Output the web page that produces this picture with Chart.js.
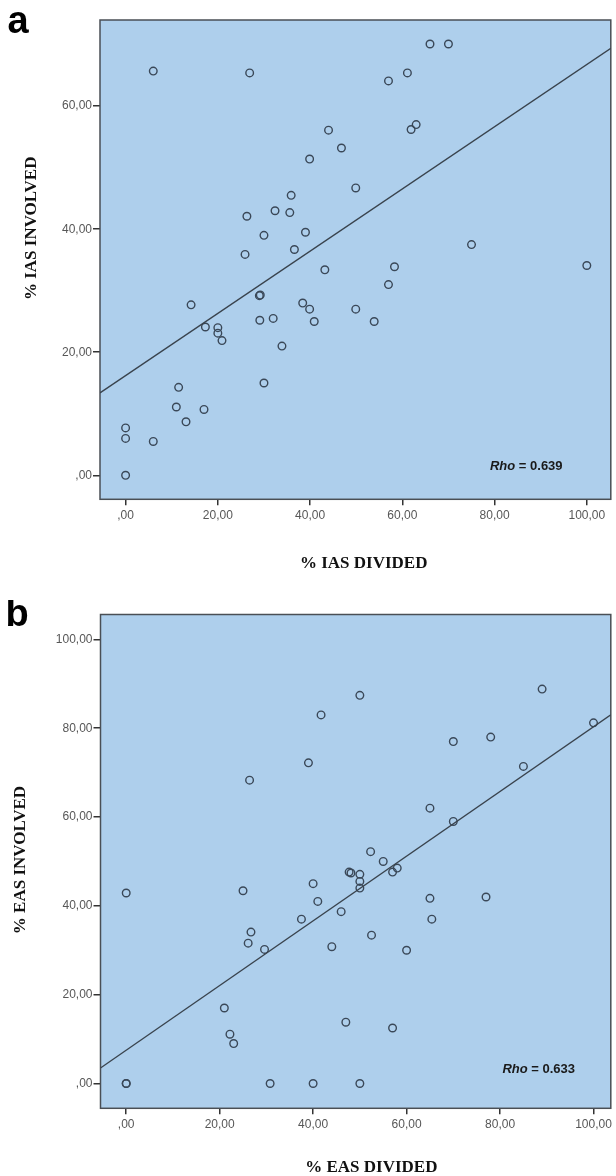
<!DOCTYPE html>
<html lang="en">
<head>
  <meta charset="UTF-8" />
  <title>IAS / EAS scatter</title>
  <style>
    body {
      margin: 0;
      background-color: #fff;
    }
    canvas {
      display: block;
    }
  </style>
  <script src="https://cdn.jsdelivr.net/npm/chart.js"></script>
</head>
<body>
  <canvas id="chartA" width="616" height="600"></canvas>
  <canvas id="chartB" width="616" height="576"></canvas>

  <script>
    // panel a: % IAS divided (x) vs % IAS involved (y)
    const iasDivided = [6, 26.9, 66, 70, 57, 61.1, 63, 61.9, 44, 46.8, 39.9, 49.9, 35.9, 32.4, 35.6, 26.3, 30, 39,
      36.6, 25.9, 75, 43.2, 58.3, 100, 57, 29, 29.2, 14.2, 38.4, 39.9, 49.9, 17.3, 20, 20, 20.9, 29.1, 32, 40.9,
      53.9, 33.9, 30, 11.5, 11, 17, 13.1, 0, 0, 6, 0];
    const iasInvolved = [65.7, 65.4, 70.1, 70.1, 64.1, 65.4, 57, 56.2, 56.1, 53.2, 51.4, 46.7, 45.5, 43, 42.7, 42.1, 39, 39.5,
      36.7, 35.9, 37.5, 33.4, 33.9, 34.1, 31, 29.2, 29.3, 27.7, 28, 27, 27, 24.1, 24, 23.1, 21.9, 25.2, 25.5, 25,
      25, 21, 15, 14.3, 11.1, 10.7, 8.7, 7.7, 6, 5.5, 0];
    const iasFitX = [-5.55, 105.2];
    const iasFitY = [13.4, 69.4];

    // panel b: % EAS divided (x) vs % EAS involved (y)
    const easDivided = [50, 41.7, 89, 100, 70, 78, 39, 85, 26.4, 65, 70, 52.3, 55, 47.7, 48.1, 50, 58, 57, 50, 50,
      40, 25, 0, 65, 77, 41, 46, 37.5, 65.4, 26.7, 26.1, 52.5, 29.6, 44, 60, 21, 47, 57, 22.2, 23, 0, 0, 30.8, 40, 50];
    const easInvolved = [87.4, 83, 88.8, 81.2, 77, 78, 72.2, 71.4, 68.3, 62, 59, 52.2, 50, 47.6, 47.4, 47.1, 48.5, 47.6, 45.5, 44,
      45, 43.4, 42.9, 41.7, 42, 41, 38.7, 37, 37, 34.1, 31.6, 33.4, 30.2, 30.8, 30, 17, 13.8, 12.5, 11.1, 9, 0, 0, 0, 0, 0];
    const easFitX = [-5.5, 103.7];
    const easFitY = [3.5, 83.0];

    const xTicks = [0, 20, 40, 60, 80, 100];
    const xTickLabels = [',00', '20,00', '40,00', '60,00', '80,00', '100,00'];
    const yTicksA = [0, 20, 40, 60];
    const yTickLabelsA = [',00', '20,00', '40,00', '60,00'];
    const yTicksB = [0, 20, 40, 60, 80, 100];
    const yTickLabelsB = [',00', '20,00', '40,00', '60,00', '80,00', '100,00'];

    const toPoints = (xs, ys) => xs.map((x, i) => ({ x: x, y: ys[i] }));

    // blue plot area, frame, panel letter, axis titles and the Rho note
    const framePlugin = {
      id: 'frame',
      beforeDatasetsDraw(chart, args, opts) {
        const ctx = chart.ctx;
        const a = chart.chartArea;
        ctx.save();
        ctx.fillStyle = '#aecfec';
        ctx.fillRect(a.left, a.top, a.right - a.left, a.bottom - a.top);
        ctx.strokeStyle = '#4a4f55';
        ctx.lineWidth = 1.5;
        ctx.strokeRect(a.left, a.top, a.right - a.left, a.bottom - a.top);
        ctx.restore();
      },
      afterDraw(chart, args, opts) {
        const ctx = chart.ctx;
        ctx.save();
        ctx.fillStyle = '#000';
        ctx.font = 'bold 38px "Liberation Sans", Arial, sans-serif';
        ctx.textBaseline = 'alphabetic';
        ctx.textAlign = 'left';
        ctx.fillText(opts.letter, opts.letterPos[0], opts.letterPos[1]);

        ctx.fillStyle = '#111';
        ctx.font = 'bold 17px "Liberation Serif", "Times New Roman", serif';
        ctx.textAlign = 'center';
        ctx.fillText(opts.xTitle, opts.xTitlePos[0], opts.xTitlePos[1]);
        ctx.translate(opts.yTitlePos[0], opts.yTitlePos[1]);
        ctx.rotate(-Math.PI / 2);
        ctx.fillText(opts.yTitle, 0, 0);
        ctx.restore();

        // Rho = ...
        const px = chart.scales.x.getPixelForValue(opts.rhoAt[0]);
        const py = chart.scales.y.getPixelForValue(opts.rhoAt[1]);
        ctx.save();
        ctx.fillStyle = '#1a1a1a';
        ctx.textAlign = 'left';
        ctx.textBaseline = 'alphabetic';
        ctx.font = 'italic bold 13px "Liberation Sans", Arial, sans-serif';
        ctx.fillText('Rho', px, py);
        const w = ctx.measureText('Rho').width;
        ctx.font = 'bold 13px "Liberation Sans", Arial, sans-serif';
        ctx.fillText(' = ' + opts.rho, px + w, py);
        ctx.restore();
      }
    };

    function makeChart(id, cfg) {
      const ctx = document.getElementById(id).getContext('2d');
      const tickFont = { family: '"Liberation Sans", Arial, sans-serif', size: 12 };
      return new Chart(ctx, {
        type: 'scatter',
        data: {
          datasets: [
            {
              type: 'line',
              data: toPoints(cfg.fitX, cfg.fitY),
              borderColor: '#39434d',
              borderWidth: 1.3,
              pointRadius: 0,
              fill: false
            },
            {
              data: toPoints(cfg.xs, cfg.ys),
              backgroundColor: 'rgba(0,0,0,0)',
              borderColor: '#3a4858',
              borderWidth: 1.4,
              pointRadius: 3.8,
              pointHoverRadius: 3.8
            }
          ]
        },
        options: {
          responsive: false,
          animation: false,
          devicePixelRatio: 1,
          layout: { padding: cfg.padding },
          plugins: {
            legend: { display: false },
            tooltip: { enabled: false },
            frame: cfg.frame
          },
          scales: {
            x: {
              type: 'linear',
              min: cfg.xMin,
              max: cfg.xMax,
              afterBuildTicks: s => { s.ticks = xTicks.map(v => ({ value: v })); },
              afterFit: s => { s.height = cfg.xAxisHeight; },
              ticks: {
                callback: (v, i) => xTickLabels[i],
                color: '#575757',
                font: tickFont,
                padding: 3,
                autoSkip: false,
                maxRotation: 0
              },
              grid: { drawOnChartArea: false, drawTicks: true, tickLength: 6, color: '#333', lineWidth: 1.5 },
              border: { display: false }
            },
            y: {
              type: 'linear',
              min: cfg.yMin,
              max: cfg.yMax,
              afterBuildTicks: s => { s.ticks = cfg.yTicks.map(v => ({ value: v })); },
              afterFit: s => { s.width = cfg.yAxisWidth; },
              ticks: {
                callback: (v, i) => cfg.yTickLabels[i],
                color: '#575757',
                font: tickFont,
                padding: 1,
                autoSkip: false
              },
              grid: { drawOnChartArea: false, drawTicks: true, tickLength: 7, color: '#333', lineWidth: 1.5 },
              border: { display: false }
            }
          }
        },
        plugins: [framePlugin]
      });
    }

    makeChart('chartA', {
      xs: iasDivided, ys: iasInvolved, fitX: iasFitX, fitY: iasFitY,
      xMin: -5.55, xMax: 105.2, yMin: -3.9, yMax: 74,
      yTicks: yTicksA, yTickLabels: yTickLabelsA,
      padding: { left: 0, right: 2.5, top: 20, bottom: 0 },
      yAxisWidth: 100, xAxisHeight: 100.7,
      frame: {
        letter: 'a', letterPos: [7.5, 33],
        xTitle: '% IAS DIVIDED', xTitlePos: [363.7, 568],
        yTitle: '% IAS INVOLVED', yTitlePos: [36, 228.3],
        rho: '0.639', rhoAt: [79, 0.94]
      }
    });

    makeChart('chartB', {
      xs: easDivided, ys: easInvolved, fitX: easFitX, fitY: easFitY,
      xMin: -5.5, xMax: 103.7, yMin: -5.58, yMax: 105.6,
      yTicks: yTicksB, yTickLabels: yTickLabelsB,
      padding: { left: 0, right: 2, top: 14.5, bottom: 0 },
      yAxisWidth: 100.5, xAxisHeight: 67.7,
      frame: {
        letter: 'b', letterPos: [5.5, 26],
        xTitle: '% EAS DIVIDED', xTitlePos: [371.3, 571.5],
        yTitle: '% EAS INVOLVED', yTitlePos: [24.5, 260],
        rho: '0.633', rhoAt: [80.5, 2.3]
      }
    });
  </script>
</body>
</html>
